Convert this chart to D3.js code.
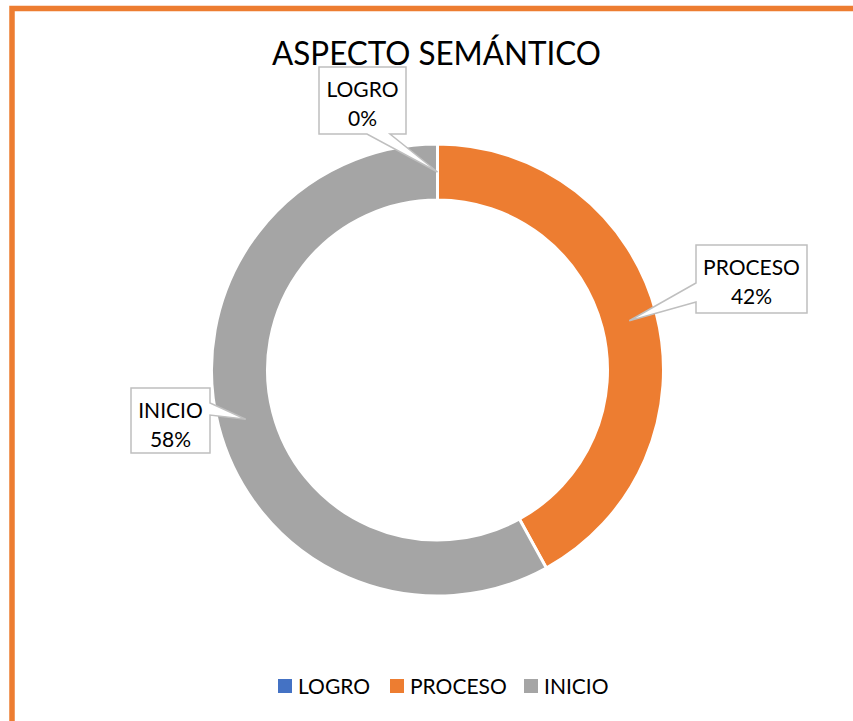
<!DOCTYPE html>
<html>
<head>
<meta charset="utf-8">
<title>Aspecto semántico</title>
<script src="https://d3js.org/d3.v7.min.js"></script>
<style>
  body { margin: 0; background: #fff; }
  svg { display: block; font-family: Lato, 'Open Sans', sans-serif; }
</style>
</head>
<body>
<svg></svg>
<script>
  // data
  var categories = ["LOGRO", "PROCESO", "INICIO"];
  var values = [0, 42, 58];
  var colors = ["#4472C4", "#ED7D31", "#A5A5A5"];
  var title = "ASPECTO SEMÁNTICO";

  var width = 853, height = 721;
  var cx = 437.5, cy = 370, outerR = 226, innerR = 170;

  // callout boxes (layout only) - where the labels were dragged to
  var callouts = [
    {x: 319, y: 67, w: 87, h: 67, side: "bottom", b0: 367, b1: 390},
    {x: 696, y: 245, w: 111, h: 68, side: "left", b0: 283, b1: 302},
    {x: 131, y: 388, w: 79, h: 65, side: "right", b0: 403, b1: 415}
  ];

  var svg = d3.select("svg").attr("width", width).attr("height", height);

  svg.append("rect")
    .attr("width", width).attr("height", height).attr("fill", "#fff");

  // orange frame (only top & left visible)
  svg.append("rect")
    .attr("x", 12).attr("y", 8.5)
    .attr("width", width + 20).attr("height", height + 20)
    .attr("fill", "none")
    .attr("stroke", "#ED7D31")
    .attr("stroke-width", 5.5);

  svg.append("text")
    .attr("x", 436.5).attr("y", 65)
    .attr("text-anchor", "middle")
    .attr("font-size", 32)
    .attr("textLength", 329)
    .attr("lengthAdjust", "spacingAndGlyphs")
    .attr("fill", "#000")
    .text(title);

  var data = categories.map(function (c, i) {
    return {name: c, value: values[i], color: colors[i]};
  });

  var pie = d3.pie().sort(null).value(function (d) { return d.value; });
  var arcs = pie(data);

  var arc = d3.arc().innerRadius(innerR).outerRadius(outerR);

  var g = svg.append("g").attr("transform", "translate(" + cx + "," + cy + ")");

  g.selectAll("path")
    .data(arcs)
    .enter().append("path")
    .attr("d", arc)
    .attr("fill", function (d) { return d.data.color; })
    .attr("stroke", "#fff")
    .attr("stroke-width", 3);

  function calloutPath(b, p) {
    var x = b.x, y = b.y, w = b.w, h = b.h;
    var pts = [[x, y], [x + w, y]];
    if (b.side === "right") pts.push([x + w, b.b0], p, [x + w, b.b1]);
    pts.push([x + w, y + h]);
    if (b.side === "bottom") pts.push([b.b1, y + h], p, [b.b0, y + h]);
    pts.push([x, y + h]);
    if (b.side === "left") pts.push([x, b.b1], p, [x, b.b0]);
    return "M" + pts.map(function (q) { return q.join(","); }).join("L") + "Z";
  }

  var labels = svg.append("g");
  arcs.forEach(function (a, i) {
    var c = arc.centroid(a);
    var anchor = [cx + c[0], cy + c[1]];
    var b = callouts[i];
    labels.append("path")
      .attr("d", calloutPath(b, anchor))
      .attr("fill", "#fff")
      .attr("stroke", "#BFBFBF")
      .attr("stroke-width", 1.5);
    var t = labels.append("text")
      .attr("text-anchor", "middle")
      .attr("font-size", 21)
      .attr("fill", "#000");
    t.append("tspan").attr("x", b.x + b.w / 2).attr("y", b.y + 30).text(a.data.name);
    t.append("tspan").attr("x", b.x + b.w / 2).attr("y", b.y + 59)
      .text(Math.round(a.data.value) + "%");
  });

  // legend
  var legendX = [278, 390, 524];
  var legend = svg.append("g");
  data.forEach(function (d, i) {
    legend.append("rect")
      .attr("x", legendX[i]).attr("y", 679)
      .attr("width", 14).attr("height", 14)
      .attr("fill", d.color);
    legend.append("text")
      .attr("x", legendX[i] + 20).attr("y", 694)
      .attr("font-size", 21)
      .attr("fill", "#000")
      .text(d.name);
  });
</script>
</body>
</html>
